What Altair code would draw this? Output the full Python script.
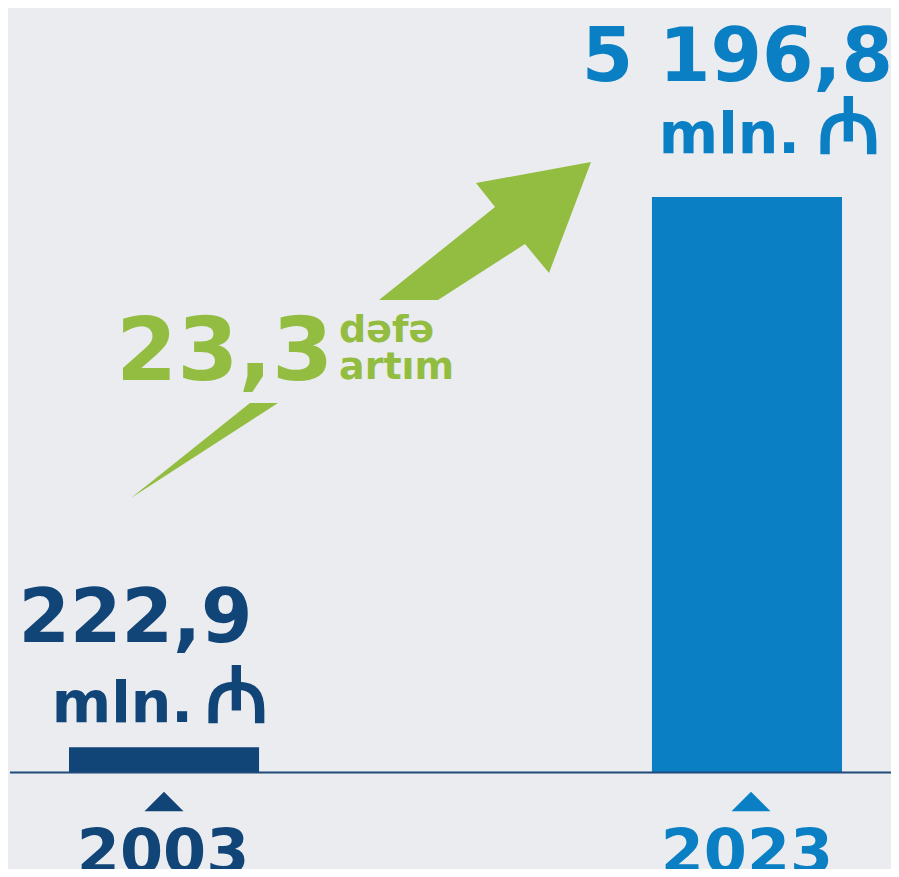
import altair as alt
import pandas as pd

# ---- data ----
years = ["2003", "2023"]
values = [222.9, 5196.8]
value_labels = ["222,9", "5 196,8"]
unit_labels = ["mln.", "mln."]
currency_labels = ["₼", "₼"]
growth_number = ["23,3"]
growth_word1 = ["dəfə"]
growth_word2 = ["artım"]

bar_colors = ["#124577", "#0a7fc4"]
green = "#93bd41"
bg = "#ebecf0"
FONT = "DejaVu Sans"

df = pd.DataFrame({"year": years, "value": values, "label": value_labels,
                   "unit": unit_labels, "cur": currency_labels})
one = pd.DataFrame({"k": [0]})

W, H = 883, 861
BASE, TOP = 764, 189

x = alt.X("year:N", axis=None,
          scale=alt.Scale(domain=years, range=[61, 834], paddingInner=0.674, paddingOuter=0))
y = alt.Y("value:Q", axis=None,
          scale=alt.Scale(domain=[0, max(values)], range=[BASE, TOP], nice=False, zero=True))
color = alt.Color("year:N", legend=None, scale=alt.Scale(domain=years, range=bar_colors))

base = alt.Chart(df)

bars = base.mark_bar().encode(x=x, y=y, color=color)

rule = alt.Chart(one).mark_rule(color="#1f4a7a", strokeWidth=2).encode(
    y=alt.value(BASE + 0.5), x=alt.value(2), x2=alt.value(W))


def label(year, field, size, dx, dy, align="center", ypix=None):
    enc = dict(x=x, text=f"{field}:N", color=color)
    enc["y"] = alt.value(ypix) if ypix is not None else y
    return base.transform_filter(alt.datum.year == year).mark_text(
        font=FONT, fontWeight="bold", fontSize=size, dx=dx, dy=dy,
        align=align, baseline="alphabetic").encode(**enc)


lab03 = label("2003", "label", 74, -28.5, -105)
unit03 = label("2003", "unit", 57, 29, -25, align="right")
cur03 = label("2003", "cur", 78, 72.5, -25)
lab23 = label("2023", "label", 74, 146, -116, align="right")
unit23 = label("2023", "unit", 57, 53, -44, align="right")
cur23 = label("2023", "cur", 78, 101.5, -44)
year03 = label("2003", "year", 62, -1, 0, ypix=865)
year23 = label("2023", "year", 62, 0, 0, ypix=865)

tri_shape = "M0,-0.5L1,0.5L-1,0.5Z"
tri03 = base.transform_filter(alt.datum.year == "2003").mark_point(
    shape=tri_shape, filled=True, size=1521, opacity=1, strokeWidth=0).encode(
    x=x, y=alt.value(793.5), color=color)
tri23 = base.transform_filter(alt.datum.year == "2023").mark_point(
    shape=tri_shape, filled=True, size=1521, opacity=1, strokeWidth=0, xOffset=4).encode(
    x=x, y=alt.value(793.5), color=color)

arrow_path = ("M233,-166L191,-55L167,-84L80,-28L21,-28L137,-121L118,-145Z"
              "M-108,75L-80,75L-227,170Z")
arrow = alt.Chart(one).mark_point(shape=arrow_path, filled=True, size=4, opacity=1,
                                  strokeWidth=0, color=green).encode(
    x=alt.value(350), y=alt.value(320))

g_num = alt.Chart(pd.DataFrame({"t": growth_number})).mark_text(
    font=FONT, fontWeight="bold", fontSize=88, align="left", baseline="alphabetic",
    color=green).encode(x=alt.value(108), y=alt.value(372), text="t:N")
g_w1 = alt.Chart(pd.DataFrame({"t": growth_word1})).mark_text(
    font=FONT, fontWeight="bold", fontSize=38, align="left", baseline="alphabetic",
    color=green).encode(x=alt.value(331), y=alt.value(334), text="t:N")
g_w2 = alt.Chart(pd.DataFrame({"t": growth_word2})).mark_text(
    font=FONT, fontWeight="bold", fontSize=38, align="left", baseline="alphabetic",
    color=green).encode(x=alt.value(331), y=alt.value(371), text="t:N")

chart = alt.layer(
    bars, rule, tri03, tri23, arrow, g_num, g_w1, g_w2,
    lab03, unit03, cur03, lab23, unit23, cur23, year03, year23
).properties(
    width=W, height=H, background=bg, padding=0, autosize="none"
).configure_view(stroke=None)

chart.save("out.html", embed_options={"renderer": "svg", "actions": False})
